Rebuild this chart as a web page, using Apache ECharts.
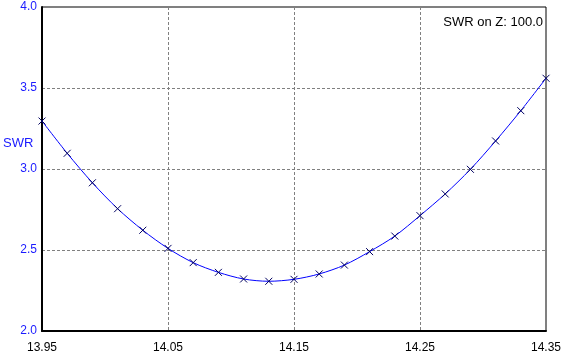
<!DOCTYPE html>
<html>
<head>
<meta charset="utf-8">
<script src="https://cdn.jsdelivr.net/npm/echarts@6/dist/echarts.min.js"></script>
<style>html,body{margin:0;padding:0;background:#fff;}#c{width:567px;height:359px;}</style>
</head>
<body>
<div id="c"></div>
<script>
var freqs = [13.95, 13.97, 13.99, 14.01, 14.03, 14.05, 14.07, 14.09, 14.11, 14.13, 14.15, 14.17, 14.19, 14.21, 14.23, 14.25, 14.27, 14.29, 14.31, 14.33, 14.35];
var swr = [3.296, 3.097, 2.915, 2.755, 2.622, 2.510, 2.422, 2.362, 2.321, 2.307, 2.319, 2.352, 2.407, 2.490, 2.586, 2.712, 2.846, 2.998, 3.173, 3.360, 3.560];
var yTitle = 'SWR';
var note = 'SWR on Z: 100.0';

var chart = echarts.init(document.getElementById('c'));
var data = freqs.map(function (f, i) { return [f, swr[i]]; });
chart.setOption({
  animation: false,
  grid: { left: 42, top: 7, right: 21, bottom: 28, show: true, borderColor: '#000', borderWidth: 1, backgroundColor: 'transparent' },
  xAxis: {
    type: 'value', min: 13.95, max: 14.35, interval: 0.1,
    axisLine: { show: true, lineStyle: { color: '#000', width: 2 } },
    axisTick: { show: false },
    axisLabel: { color: '#000', fontFamily: 'Liberation Sans, Arial', fontSize: 12, margin: 11,
      formatter: function (v) { return v.toFixed(2); } },
    splitLine: { show: true, lineStyle: { color: '#808080', type: [3, 2], width: 1 } }
  },
  yAxis: {
    type: 'value', min: 2, max: 4, interval: 0.5,
    axisLine: { show: true, lineStyle: { color: '#000', width: 2 } },
    axisTick: { show: false },
    axisLabel: { color: '#1a1aff', fontFamily: 'Liberation Sans, Arial', fontSize: 12, margin: 5,
      formatter: function (v) { return v.toFixed(1); } },
    splitLine: { show: true, lineStyle: { color: '#808080', type: [3, 2], width: 1 } }
  },
  graphic: [
    { type: 'text', left: 3, top: 137, style: { text: yTitle, fill: '#1a1aff', font: '13px "Liberation Sans", Arial' } },
    { type: 'text', right: 24, top: 16, style: { text: note, fill: '#000', font: '13px "Liberation Sans", Arial' } }
  ],
  series: [{
    type: 'line', data: data, smooth: 0.3,
    lineStyle: { color: '#0000ff', width: 1 },
    symbol: 'path://M0,0L10,10M10,0L0,10',
    symbolSize: 7,
    itemStyle: { color: 'none', borderColor: '#000060', borderWidth: 1 },
    showSymbol: true
  }]
});
</script>
</body>
</html>
